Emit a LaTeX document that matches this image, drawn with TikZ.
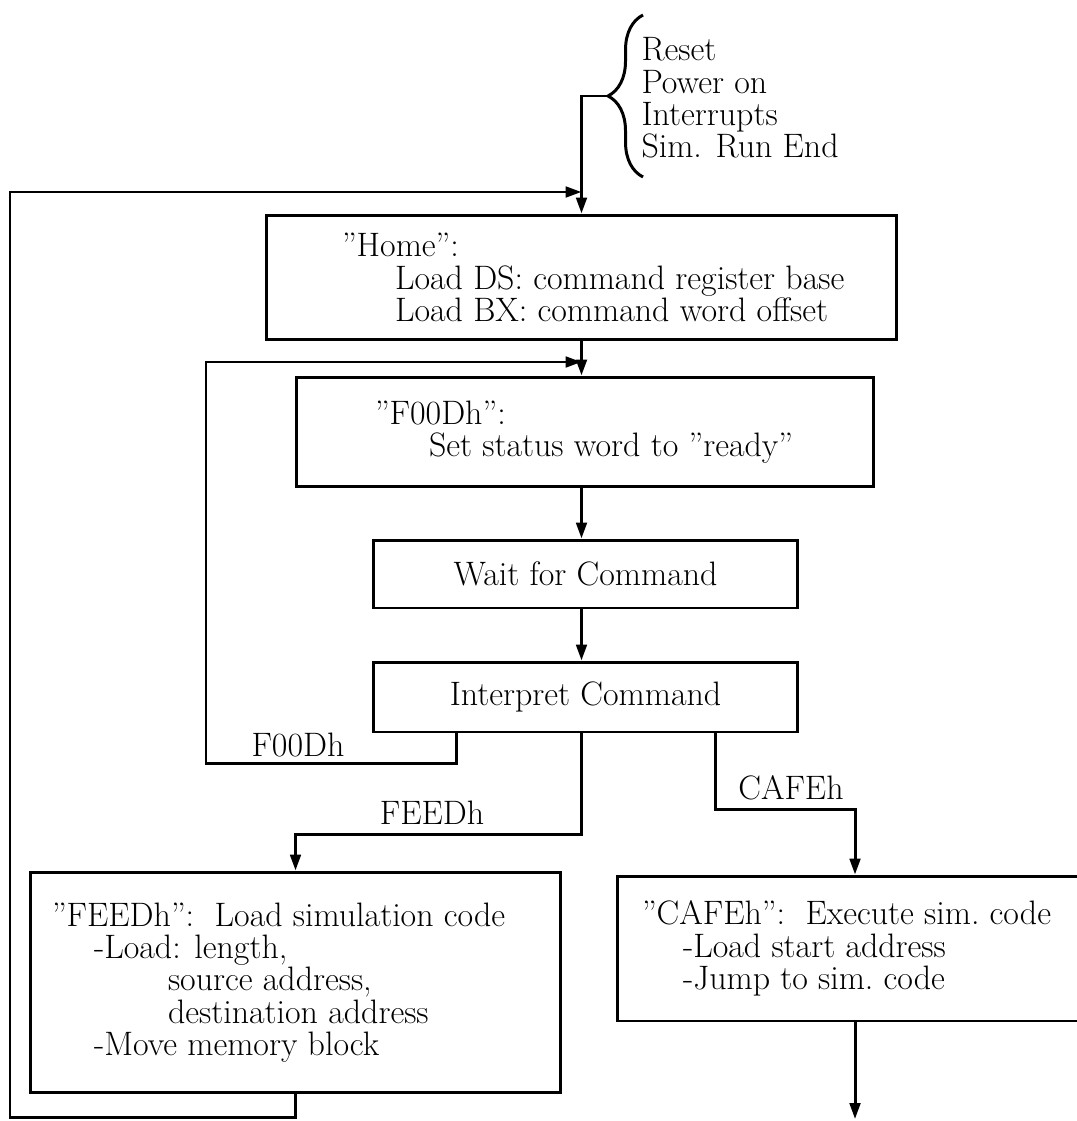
\documentclass[tikz,border=0pt]{standalone}
\usepackage{tikz}
\usetikzlibrary{arrows.meta,decorations.pathreplacing}

\tikzset{
  box/.style={draw, inner sep=0pt},
  txt/.style={align=left, inner sep=0pt, anchor=west},
  arr/.style={-{Triangle[length=9pt,width=6pt]}},
}

\begin{document}
\begin{tikzpicture}[x=0.02cm, y=-0.02cm, line width=1.7pt, font=\fontsize{19.3}{18.4}\selectfont]
\useasboundingbox (0,0) rectangle (1077,1121);
% boxes
\node[box, minimum width=12.62cm, minimum height=2.5cm] (home) at (581.5,277.5) {};
\node[box, minimum width=11.56cm, minimum height=2.2cm] (food) at (585,432) {};
\node[box, minimum width=8.48cm, minimum height=1.36cm] (wait) at (585.5,574) {Wait for Command};
\node[box, minimum width=8.48cm, minimum height=1.4cm] (interp) at (585.5,697) {Interpret Command};
\node[box, minimum width=10.62cm, minimum height=4.42cm] (feed) at (295.5,982.5) {};
\node[box, minimum width=9.52cm, minimum height=2.9cm] (cafe) at (855,948.5) {};
% box texts
\node[txt] (hometext) at ([xshift=1.52cm]home.west) {''Home'':\\\hspace{1.06cm}Load DS: command register base\\\hspace{1.06cm}Load BX: command word offset};
\node[txt] (foodtext) at ([xshift=1.58cm]food.west) {''F00Dh'':\\\hspace{1.08cm}Set status word to ''ready''};
\node[txt] (feedtext) at ([xshift=0.44cm]feed.west) {''FEEDh'':\ \ Load simulation code\\\hspace{0.84cm}-Load: length,\\\hspace{2.32cm}source address,\\\hspace{2.32cm}destination address\\\hspace{0.84cm}-Move memory block};
\node[txt] (cafetext) at ([xshift=0.5cm]cafe.west) {''CAFEh'':\ \ Execute sim.\ code\\\hspace{0.82cm}-Load start address\\\hspace{0.82cm}-Jump to sim.\ code};
% start events
\draw[decorate, decoration={brace, amplitude=0.7cm}] (643,177) -- (643,15);
\node[txt] (events) at (640,98) {Reset\\Power on\\Interrupts\\Sim. Run End};
% branch labels
\node (lblfood) at (298,745) {F00Dh};
\node (lblfeed) at (432,813) {FEEDh};
\node (lblcafe) at (791,788) {CAFEh};
% connectors
\coordinate (resetin) at (608,96);
\coordinate (homein) at (581.5,192);
\coordinate (foodin) at (581.5,362);
\coordinate (outer) at (10,1117);
\coordinate (inner) at (206,763);
\coordinate (simexit) at (855,1119);
\draw[arr] (resetin) -| (home.north);
\draw[arr] (home.south) -- (home.south |- food.north);
\draw[arr] (home.south |- food.south) -- (home.south |- wait.north);
\draw[arr] (home.south |- wait.south) -- (home.south |- interp.north);
\draw[arr] ([xshift=1.68cm]interp.south west) |- (inner) |- (foodin);
\draw[arr] (home.south |- interp.south) -- ++(0,101) -| (feed.north);
\draw[arr] ([xshift=6.87cm]interp.south west) -- ++(0,76) -| (cafe.north);
\draw[arr] (feed.south) |- (outer) |- (homein);
\draw[arr] (cafe.south) -- (simexit);
\end{tikzpicture}
\end{document}
